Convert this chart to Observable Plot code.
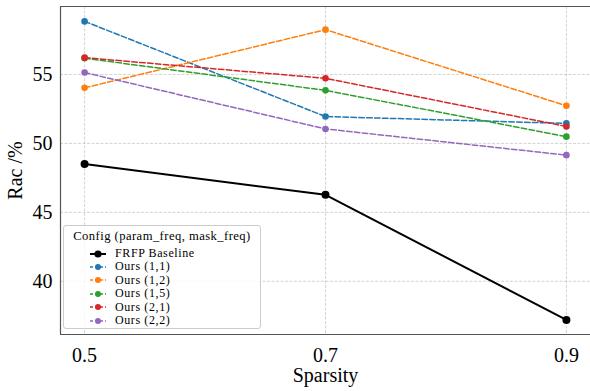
<!DOCTYPE html>
<html>
<head>
<meta charset="utf-8">
<script src="https://cdn.jsdelivr.net/npm/d3@7"></script>
<script src="https://cdn.jsdelivr.net/npm/@observablehq/plot@0.6"></script>
<style>
  html, body { margin: 0; padding: 0; background: #fff; }
  #wrap { position: relative; width: 590px; height: 391px; overflow: hidden; font-family: "Liberation Serif", "Times New Roman", serif; }
  #legend { position: absolute; left: 63px; top: 225px; width: 198px; height: 104px; box-sizing: border-box;
    border: 1px solid #cccccc; border-radius: 3px; background: rgba(255,255,255,0.8);
    font-family: "Liberation Serif", "Times New Roman", serif; font-size: 12px; letter-spacing: 0.6px; color: #000; }
  #legend .title { position: absolute; left: 0; right: 0; text-align: center; top: 4px; line-height: 13px; height: 13px; white-space: nowrap; font-size: 12.6px; letter-spacing: 0.45px; }
  #legend .row { position: absolute; left: 26px; height: 13px; line-height: 13px; white-space: nowrap; display: flex; align-items: center; }
  #legend .row svg { margin-right: 9px; }
</style>
</head>
<body>
<div id="wrap"></div>
<script>
const sparsity = [0.5, 0.7, 0.9];
const seriesNames = ["FRFP Baseline", "Ours (1,1)", "Ours (1,2)", "Ours (1,5)", "Ours (2,1)", "Ours (2,2)"];
const baseline = [48.5, 46.27, 37.2];
const ours11 = [58.85, 51.95, 51.45];
const ours12 = [54.03, 58.25, 52.73];
const ours15 = [56.18, 53.85, 50.49];
const ours21 = [56.22, 54.72, 51.23];
const ours22 = [55.14, 51.05, 49.15];
const seriesColors = ["#000000", "#1f77b4", "#ff7f0e", "#2ca02c", "#d62728", "#9467bd"];
const xTicks = [0.5, 0.7, 0.9];
const yTicks = [40, 45, 50, 55];
const xDomain = [0.48, 0.92];
const yDomain = [36.14, 59.93];

const allValues = [baseline, ours11, ours12, ours15, ours21, ours22];
const rows = [];
allValues.forEach((vals, i) => vals.forEach((v, j) => rows.push({series: seriesNames[i], x: sparsity[j], y: v})));
const baseRows = rows.filter(d => d.series === seriesNames[0]);
const oursRows = rows.filter(d => d.series !== seriesNames[0]);

const chart = Plot.plot({
  width: 590,
  height: 391,
  marginLeft: 60,
  marginTop: 6,
  marginBottom: 57,
  marginRight: 0,
  style: {background: "#fff", fontFamily: "'Liberation Serif', 'Times New Roman', serif", color: "#000"},
  x: {domain: xDomain},
  y: {domain: yDomain},
  color: {domain: seriesNames, range: seriesColors},
  marks: [
    Plot.gridX(xTicks, {stroke: "#b0b0b0", strokeOpacity: 0.7, strokeDasharray: "3,1.5", strokeWidth: 0.8}),
    Plot.gridY(yTicks, {stroke: "#b0b0b0", strokeOpacity: 0.7, strokeDasharray: "3,1.5", strokeWidth: 0.8}),
    Plot.ruleY([yDomain[0], yDomain[1]], {stroke: "#555", strokeWidth: 1.2}),
    Plot.ruleX([xDomain[0]], {stroke: "#555", strokeWidth: 1.2}),
    Plot.axisX(xTicks, {tickSize: 0, tickPadding: 13, fontSize: 20, tickFormat: d3.format(".1f"),
      label: "Sparsity", labelAnchor: "center", labelOffset: 47, labelArrow: "none"}),
    Plot.axisY(yTicks, {tickSize: 0, tickPadding: 8, fontSize: 20,
      label: "Rac /%", labelAnchor: "center", labelOffset: 53, labelArrow: "none"}),
    Plot.line(baseRows, {x: "x", y: "y", stroke: "series", strokeWidth: 2}),
    Plot.dot(baseRows, {x: "x", y: "y", fill: "series", r: 4}),
    Plot.line(oursRows, {x: "x", y: "y", z: "series", stroke: "series", strokeWidth: 1.5, strokeDasharray: "5.5,2.4"}),
    Plot.dot(oursRows, {x: "x", y: "y", fill: "series", r: 3.3})
  ]
});
const wrap = document.getElementById("wrap");
wrap.appendChild(chart);

// legend
const legend = document.createElement("div");
legend.id = "legend";
const title = document.createElement("div");
title.className = "title";
title.textContent = "Config (param_freq, mask_freq)";
legend.appendChild(title);
seriesNames.forEach((name, i) => {
  const row = document.createElement("div");
  row.className = "row";
  row.style.top = (21 + i * 13.4) + "px";
  const isBase = i === 0;
  const svg = `<svg width="16" height="10" viewBox="0 0 16 10"><line x1="0" x2="16" y1="5" y2="5" stroke="${seriesColors[i]}" stroke-width="${isBase ? 2 : 1.5}" ${isBase ? "" : 'stroke-dasharray="3,2"'}/><circle cx="8" cy="5" r="${isBase ? 3.6 : 3}" fill="${seriesColors[i]}"/></svg>`;
  row.innerHTML = svg + `<span>${name}</span>`;
  legend.appendChild(row);
});
wrap.appendChild(legend);
</script>
</body>
</html>
